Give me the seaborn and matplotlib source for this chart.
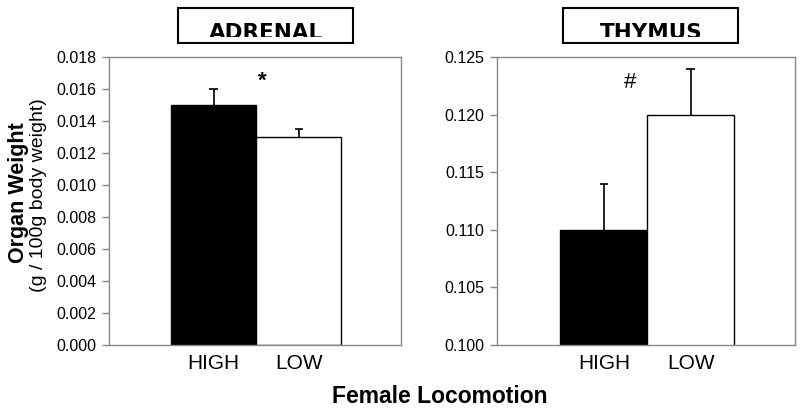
import matplotlib
matplotlib.use("Agg")
import matplotlib.pyplot as plt
from matplotlib.patches import Rectangle
import seaborn as sns
import pandas as pd

# data
groups = ["HIGH", "LOW"]
adrenal_mean = [0.0150, 0.0130]
adrenal_err = [0.0010, 0.0005]
thymus_mean = [0.110, 0.120]
thymus_err = [0.004, 0.004]
bar_colors = ["black", "white"]

sns.set_style("white")
plt.rcParams["font.family"] = ["Liberation Sans", "DejaVu Sans"]
plt.rcParams["text.color"] = "black"
plt.rcParams["axes.labelcolor"] = "black"
plt.rcParams["xtick.color"] = "black"
plt.rcParams["ytick.color"] = "black"

fig = plt.figure(figsize=(8, 4.15), dpi=100)
ax1 = fig.add_axes([109 / 800, 70 / 415, 292 / 800, 288 / 415])
ax2 = fig.add_axes([497 / 800, 70 / 415, 298 / 800, 288 / 415])

panels = [
    (ax1, adrenal_mean, adrenal_err, (0, 0.018), [i * 0.002 for i in range(10)], "ADRENAL", 178, "*", 0.57, 0.0165),
    (ax2, thymus_mean, thymus_err, (0.100, 0.125), [0.100, 0.105, 0.110, 0.115, 0.120, 0.125], "THYMUS", 563, "#", 0.3, 0.1228),
]

for ax, means, errs, ylim, yticks, title, box_x, mark, mark_x, mark_y in panels:
    df = pd.DataFrame({"group": groups, "value": means})
    # upward-only error bars, drawn first so the bars sit on top of the stems
    tops = [m + e for m, e in zip(means, errs)]
    ax.vlines([0, 1], means, tops, color="black", linewidth=1.2, zorder=1)
    ax.hlines(tops, [-0.05, 0.95], [0.05, 1.05], color="black", linewidth=1.2, zorder=1)
    sns.barplot(data=df, x="group", y="value", hue="group", palette=bar_colors,
                width=1.0, edgecolor="black", linewidth=1.0, errorbar=None,
                legend=False, ax=ax)
    ax.set_ylim(*ylim)
    ax.set_xlim(-1.23, 2.2)
    ax.set_yticks(yticks)
    ax.set_yticklabels([f"{t:.3f}" for t in yticks], fontsize=11.5)
    ax.tick_params(axis="y", left=True, length=5, width=1, color="#888888",
                   labelcolor="black", pad=4)
    ax.tick_params(axis="x", bottom=False, labelsize=15, labelcolor="black", pad=3)
    ax.set_xlabel("")
    ax.set_ylabel("")
    for s in ax.spines.values():
        s.set_visible(True)
        s.set_color("#888888")
        s.set_linewidth(1)
    ax.text(mark_x, mark_y, mark, ha="center", va="center", fontsize=16,
            color="black", fontweight="bold" if mark == "*" else "normal")

    # boxed panel title, text cut off at the bottom like the reference
    t = fig.text((box_x + 88) / 800, 1 - 39 / 415, title, ha="center", va="baseline",
                 fontsize=15.5, fontweight="bold", color="black", family="DejaVu Sans")
    t.set_zorder(4)
    fig.add_artist(Rectangle((box_x / 800, 1 - 43 / 415), 175 / 800, 6 / 415,
                             transform=fig.transFigure, facecolor="white",
                             edgecolor="none", zorder=5))
    fig.add_artist(Rectangle((box_x / 800, 1 - 43 / 415), 175 / 800, 35 / 415,
                             transform=fig.transFigure, facecolor="none",
                             edgecolor="black", linewidth=1.5, zorder=6))

fig.text(19 / 800, 1 - 193 / 415, "Organ Weight", rotation=90, ha="center", va="center",
         fontsize=15.5, fontweight="bold", color="black")
fig.text(39 / 800, 1 - 195 / 415, "(g / 100g body weight)", rotation=90, ha="center",
         va="center", fontsize=14, color="black")
fig.text(440 / 800, 1 - 396 / 415, "Female Locomotion", ha="center", va="center",
         fontsize=16.5, fontweight="bold", color="black")

fig.savefig("out.png", dpi=100)
